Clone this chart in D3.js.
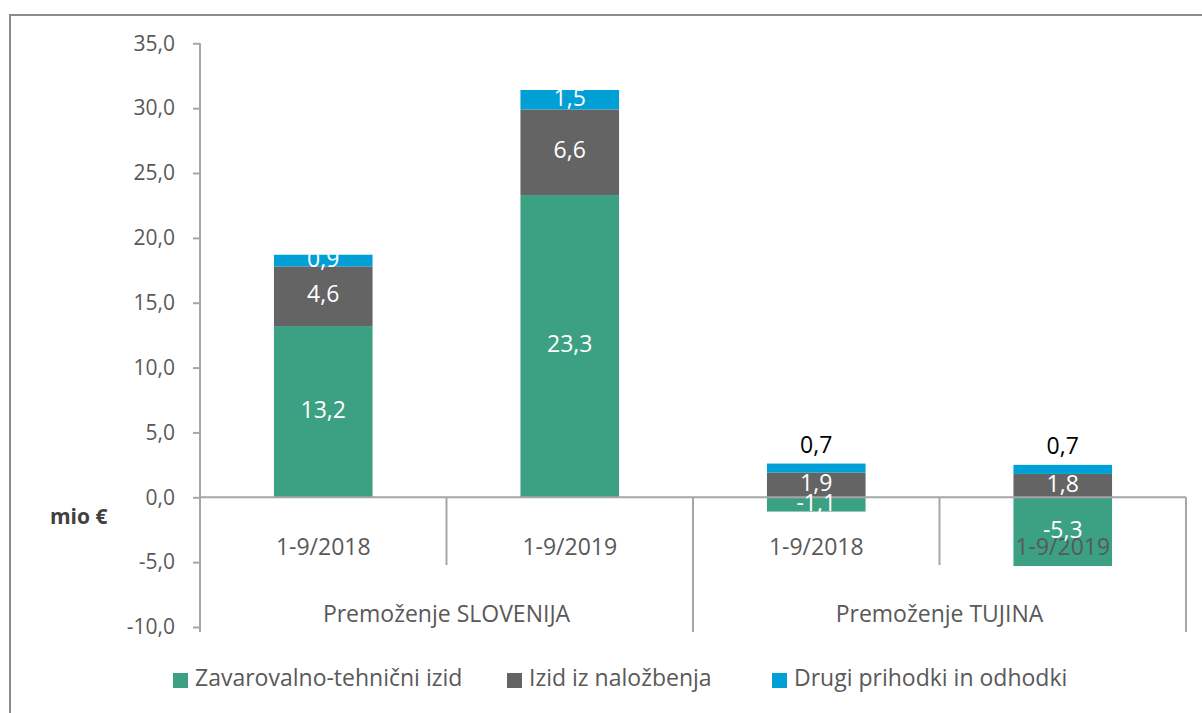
<!DOCTYPE html>
<html>
<head>
<meta charset="utf-8">
<script src="https://cdn.jsdelivr.net/npm/d3@7"></script>
<style>
  body { margin: 0; background: #fff; }
  svg { display: block; font-family: "Open Sans", Lato, sans-serif; }
</style>
</head>
<body>
<script>
// data (mio €)
const categories = ["1-9/2018", "1-9/2019", "1-9/2018", "1-9/2019"];
const groups = ["Premoženje SLOVENIJA", "Premoženje TUJINA"];
const groupOf = [0, 0, 1, 1];
const seriesNames = ["Zavarovalno-tehnični izid", "Izid iz naložbenja", "Drugi prihodki in odhodki"];
const zavarovalno = [13.2, 23.3, -1.1, -5.3];
const nalozbe = [4.6, 6.6, 1.9, 1.8];
const drugi = [0.9, 1.5, 0.7, 0.7];
const yTicks = [-10, -5, 0, 5, 10, 15, 20, 25, 30, 35];

const colors = ["#3ca183", "#646464", "#00a0d6"];
const seriesValues = [zavarovalno, nalozbe, drugi];
const FONT = "'Open Sans', Lato, sans-serif";

const W = 1202, H = 713;
const svg = d3.select("body").append("svg")
    .attr("width", W)
    .attr("height", H);

// outer chart border
svg.append("rect")
    .attr("x", 10).attr("y", 15)
    .attr("width", W + 20).attr("height", H + 20)
    .attr("fill", "none")
    .attr("stroke", "#8c8c8c")
    .attr("stroke-width", 2);

const locale = d3.formatLocale({decimal: ",", thousands: ".", grouping: [3], currency: ["", "€"], minus: "-"});
const fmt = locale.format(".1f");

const x = d3.scaleBand()
    .domain(d3.range(categories.length))
    .range([200, 1186])
    .paddingInner(0.6)
    .paddingOuter(0.3);

const y = d3.scaleLinear()
    .domain([-10, 35])
    .range([627, 43.3]);

// y axis
const yAxis = svg.append("g")
    .attr("transform", "translate(200,0)")
    .call(d3.axisLeft(y).tickValues(yTicks).tickFormat(fmt).tickSizeOuter(0).tickSize(7).tickPadding(18));
yAxis.select(".domain").remove();
yAxis.selectAll(".tick line").attr("stroke", "#a6a6a6").attr("stroke-width", 2);
yAxis.selectAll(".tick text")
    .attr("fill", "#595959")
    .style("font-size", "21px")
    .style("font-family", FONT);
svg.append("line")
    .attr("x1", 200).attr("x2", 200)
    .attr("y1", y(35)).attr("y2", 632)
    .attr("stroke", "#a6a6a6").attr("stroke-width", 2);

// stacked bars: positives stack up, negatives stack down
const segs = [];
categories.forEach((c, i) => {
  let pos = 0, neg = 0;
  seriesValues.forEach((vals, s) => {
    const v = vals[i];
    let y0, y1;
    if (v >= 0) { y0 = pos; y1 = pos + v; pos = y1; }
    else { y0 = neg; y1 = neg + v; neg = y1; }
    segs.push({i, s, v, y0, y1});
  });
});

svg.append("g").selectAll("rect")
    .data(segs)
    .join("rect")
    .attr("x", d => x(d.i))
    .attr("width", x.bandwidth())
    .attr("y", d => y(Math.max(d.y0, d.y1)))
    .attr("height", d => Math.abs(y(d.y0) - y(d.y1)))
    .attr("fill", d => colors[d.s]);

// x axis line and category separators
svg.append("line")
    .attr("x1", 200).attr("x2", 1186)
    .attr("y1", y(0)).attr("y2", y(0))
    .attr("stroke", "#a6a6a6").attr("stroke-width", 2);

const step = x.step();
const bounds = d3.range(1, categories.length + 1).map(k => 200 + k * step);
svg.append("g").selectAll("line")
    .data(bounds)
    .join("line")
    .attr("x1", d => d).attr("x2", d => d)
    .attr("y1", y(0))
    .attr("y2", (d, k) => (k === categories.length - 1 || groupOf[k] !== groupOf[k + 1]) ? 632 : 565)
    .attr("stroke", "#a6a6a6").attr("stroke-width", 2);

// category labels
svg.append("g").selectAll("text")
    .data(categories)
    .join("text")
    .attr("x", (d, i) => x(i) + x.bandwidth() / 2)
    .attr("y", 549)
    .attr("text-anchor", "middle")
    .attr("dominant-baseline", "middle")
    .attr("fill", "#595959")
    .style("font-size", "23px")
    .text(d => d);

// group labels
svg.append("g").selectAll("text")
    .data(groups)
    .join("text")
    .attr("x", (d, g) => 200 + step * (2 * g + 1))
    .attr("y", 616)
    .attr("text-anchor", "middle")
    .attr("dominant-baseline", "middle")
    .attr("fill", "#595959")
    .style("font-size", "23px")
    .text(d => d);

// data labels
svg.append("g").selectAll("text")
    .data(segs)
    .join("text")
    .attr("x", d => x(d.i) + x.bandwidth() / 2)
    .attr("y", d => {
      // small "drugi" segments abroad carry their label above the bar
      if (d.s === 2 && groupOf[d.i] === 1) return y(d.y1) - 17;
      return y((d.y0 + d.y1) / 2);
    })
    .attr("text-anchor", "middle")
    .attr("dominant-baseline", "middle")
    .attr("fill", d => (d.s === 2 && groupOf[d.i] === 1) ? "#000" : "#fff")
    .style("font-size", "23px")
    .text(d => fmt(d.v));

// y axis title
svg.append("text")
    .attr("x", 50)
    .attr("y", 518)
    .attr("dominant-baseline", "middle")
    .attr("fill", "#404040")
    .style("font-size", "21px")
    .style("font-weight", "bold")
    .text("mio €");

// legend
const legendX = [173, 507, 772];
const legend = svg.append("g").selectAll("g")
    .data(seriesNames)
    .join("g")
    .attr("transform", (d, s) => `translate(${legendX[s]},680)`);
legend.append("rect")
    .attr("x", 0).attr("y", -7)
    .attr("width", 15).attr("height", 15)
    .attr("fill", (d, s) => colors[s]);
legend.append("text")
    .attr("x", 22)
    .attr("y", 0)
    .attr("dominant-baseline", "middle")
    .attr("fill", "#595959")
    .style("font-size", "23px")
    .text(d => d);
</script>
</body>
</html>
